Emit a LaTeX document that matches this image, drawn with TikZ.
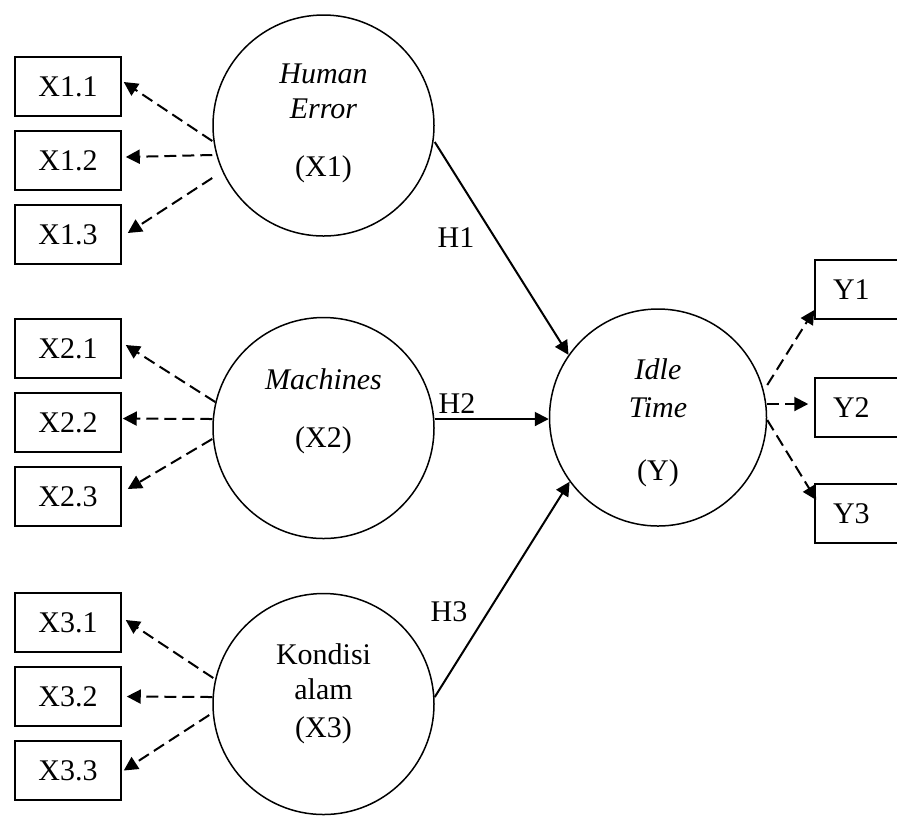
\documentclass[tikz,border=0pt]{standalone}
\usepackage{fontspec}
\setmainfont{Liberation Serif}
\usetikzlibrary{arrows.meta, positioning}

\begin{document}
\begin{tikzpicture}[
        x=0.5pt, y=-0.5pt,
        node distance=6.75pt,
        font=\fontsize{15}{17.5}\selectfont,
        itembox/.style={rectangle, draw=black, line width=0.75pt, minimum width=53pt, minimum height=29.5pt, inner sep=0pt},
        ybox/.style={itembox, text width=35pt, inner xsep=9pt, align=left},
        latent/.style={circle, draw=black, line width=0.75pt, minimum size=110.5pt, inner sep=0pt},
        caption/.style={align=center, inner sep=0pt},
        loading/.style={-{Triangle[length=7pt, width=7pt]}, line width=1pt, dash pattern=on 6pt off 3pt},
        hypo/.style={-{Triangle[length=7pt, width=7pt]}, line width=1pt}
    ]

    \clip (0,0) rectangle (897,816);

    % The Latent Circles
    \node (x1) [latent] at (323.5,125.5) {};
    \node (x2) [latent] at (323.5,428) {};
    \node (x3) [latent] at (323.5,704) {};
    \node (idle) [latent, minimum size=108.5pt] at (658,417.5) {};

    \node (x1txt) [caption] at (323.5,123.5) {\textit{Human}\\\textit{Error}\\[11.5pt](X1)};
    \node (x2txt) [caption] at (323.5,411) {\textit{Machines}\\[11.5pt](X2)};
    \node (x3txt) [caption] at (323.5,693.5) {Kondisi\\alam\\[1.5pt](X3)};
    \node (idletxt) [caption] at (658,422.5) {\textit{Idle}\\[1.5pt]\textit{Time}\\[14pt](Y)};

    % The Indicator Boxes
    \node (x11) [itembox] at (68,86.5) {X1.1};
    \node (x12) [itembox, below=of x11] {X1.2};
    \node (x13) [itembox, below=of x12] {X1.3};

    \node (x21) [itembox] at (68,348.5) {X2.1};
    \node (x22) [itembox, below=of x21] {X2.2};
    \node (x23) [itembox, below=of x22] {X2.3};

    \node (x31) [itembox] at (68,622.5) {X3.1};
    \node (x32) [itembox, below=of x31] {X3.2};
    \node (x33) [itembox, below=of x32] {X3.3};

    \node (y1) [ybox] at (868,289.5) {Y1};
    \node (y2) [ybox] at (868,407.5) {Y2};
    \node (y3) [ybox] at (868,513.5) {Y3};

    % The Dashed Loadings
    \draw [loading] ([yshift=-7.75pt]x1.west) -- ([xshift=1pt,yshift=2.25pt]x11.east);
    \draw [loading] ([yshift=-14.75pt]x1.west) -- ([xshift=2pt,yshift=1.75pt]x12.east);
    \draw [loading] ([yshift=-26.25pt]x1.west) -- ([xshift=3pt,yshift=0.75pt]x13.east);

    \draw [loading] ([xshift=1.5pt,yshift=13pt]x2.west) -- ([xshift=2pt,yshift=1.75pt]x21.east);
    \draw [loading] ([yshift=4.5pt]x2.west) -- ([xshift=0.5pt,yshift=2pt]x22.east);
    \draw [loading] ([yshift=-5.5pt]x2.west) -- ([xshift=3pt,yshift=3.75pt]x23.east);

    \draw [loading] ([xshift=0.5pt,yshift=13pt]x3.west) -- ([xshift=2pt,yshift=1.25pt]x31.east);
    \draw [loading] ([yshift=3.5pt]x3.west) -- ([xshift=2.5pt]x32.east);
    \draw [loading] ([xshift=-1.5pt,yshift=-5.5pt]x3.west) -- ([xshift=1pt]x33.east);

    \draw [loading] ([yshift=16.25pt]idle.east) -- ([yshift=-10.25pt]y1.west);
    \draw [loading] ([yshift=6.75pt]idle.east) -- ([xshift=-3pt,yshift=1.75pt]y2.west);
    \draw [loading] ([yshift=-1.25pt]idle.east) -- ([xshift=1pt,yshift=6.75pt]y3.west);

    % The Hypothesis Arrows
    \draw [hypo] ([yshift=-8.25pt]x1.east) -- (idle.145);
    \draw [hypo] ([yshift=4.5pt]x2.east) -- ([yshift=-0.75pt]idle.west);
    \draw [hypo] ([yshift=3.5pt]x3.east) -- (idle.216);

    \node (h1) at (456,238) {H1};
    \node (h2) at (457,404) {H2};
    \node (h3) at (449,612) {H3};

\end{tikzpicture}
\end{document}
